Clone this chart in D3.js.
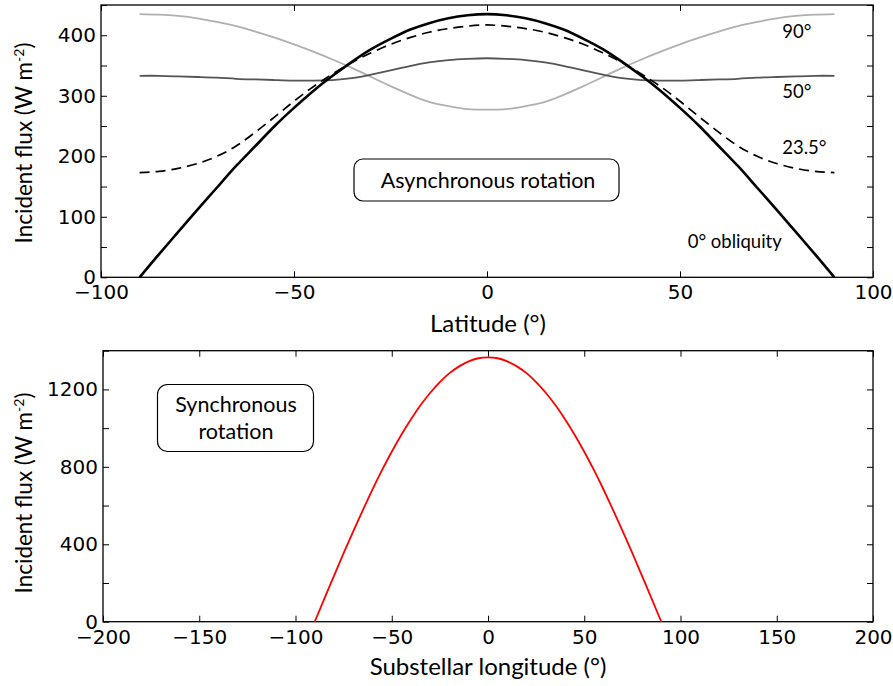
<!DOCTYPE html>
<html><head><meta charset="utf-8">
<script src="https://cdn.jsdelivr.net/npm/d3@7"></script>
<style>
body{margin:0;background:#fff;}
svg{display:block;}
.tick text{font-family:"DejaVu Sans",sans-serif;font-size:20px;fill:#000;}
.lbl{font-family:Lato,"Open Sans",sans-serif;fill:#000;}
</style></head>
<body>
<svg id="c" width="893" height="686"></svg>
<script>
// ---- Data ----
const latitudes = [-90,-85,-80,-75,-70,-65,-60,-55,-50,-45,-40,-35,-30,-25,-20,-15,-10,-5,0,5,10,15,20,25,30,35,40,45,50,55,60,65,70,75,80,85,90];
const flux0   = [0,38,75,112,148,184,217,250,280,308,333,356,377,394,409,420,428,433,435,433,428,420,409,394,377,356,333,308,280,250,217,184,148,112,75,38,0];
const flux235 = [173,175,180,188,200,217,240,265,291,315,336,355,371,385,396,405,411,415,417,415,411,405,396,385,371,355,336,315,291,265,240,217,200,188,180,175,173];
const flux50  = [333,333,332,331,330,328,327,326,325,325,326,329,335,342,349,355,359,361,362,361,359,355,349,342,335,329,326,325,325,326,327,328,330,331,332,333,333];
const flux90  = [435,434,432,428,422,415,406,396,385,373,360,346,331,316,302,290,283,278,277,278,283,290,302,316,331,346,360,373,385,396,406,415,422,428,432,434,435];
const seriesLabels = ["90°","50°","23.5°","0° obliquity"];

const longitudes = [-90,-85,-80,-75,-70,-65,-60,-55,-50,-45,-40,-35,-30,-25,-20,-15,-10,-5,0,5,10,15,20,25,30,35,40,45,50,55,60,65,70,75,80,85,90];
const fluxSync = [0,119,237,354,467,577,683,784,878,966,1046,1119,1183,1238,1284,1319,1345,1361,1366,1361,1345,1319,1284,1238,1183,1119,1046,966,878,784,683,577,467,354,237,119,0];

const topXTicks = [-100,-50,0,50,100];
const topYTicks = [0,50,100,150,200,250,300,350,400,450];
const botXTicks = [-200,-150,-100,-50,0,50,100,150,200];
const botYTicks = [0,200,400,600,800,1000,1200,1400];

const svg = d3.select("#c");
const minus = d => String(d).replace("-", "\u2212");

function panel(xs, ys, xt, yt, yLabelEvery) {
  const g = svg.append("g");
  const [x0,x1] = xs.range(), [y0,y1] = ys.range();
  const ts = 6;
  g.append("g").attr("transform",`translate(0,${y0})`)
    .call(d3.axisBottom(xs).tickValues(xt).tickSizeInner(-ts).tickSizeOuter(0).tickPadding(8).tickFormat(minus))
    .call(s=>s.select(".domain").remove());
  g.append("g").attr("transform",`translate(0,${y1})`)
    .call(d3.axisTop(xs).tickValues(xt).tickSizeInner(-ts).tickSizeOuter(0).tickFormat(""))
    .call(s=>s.select(".domain").remove());
  g.append("g").attr("transform",`translate(${x0},0)`)
    .call(d3.axisLeft(ys).tickValues(yt).tickSizeInner(-ts).tickSizeOuter(0).tickPadding(5)
      .tickFormat(d => d % yLabelEvery === 0 ? d : ""))
    .call(s=>s.select(".domain").remove());
  g.append("g").attr("transform",`translate(${x1},0)`)
    .call(d3.axisRight(ys).tickValues(yt).tickSizeInner(-ts).tickSizeOuter(0).tickFormat(""))
    .call(s=>s.select(".domain").remove());
  g.selectAll(".tick line").attr("stroke","#000").attr("stroke-width",1);
  g.append("rect").attr("x",x0).attr("y",y1).attr("width",x1-x0).attr("height",y0-y1)
    .attr("fill","none").attr("stroke","#000").attr("stroke-width",1.3);
  return g;
}

function ylabel(cx, cy) {
  const t = svg.append("text").attr("class","lbl")
    .attr("transform",`translate(${cx},${cy}) rotate(-90)`)
    .attr("text-anchor","middle").attr("font-size",22.5);
  t.append("tspan").text("Incident flux (W m");
  t.append("tspan").attr("font-size",14).attr("dy",-8).text("-2");
  t.append("tspan").attr("dy",8).text(")");
}

// ---- Top panel ----
const xA = d3.scaleLinear().domain([-100,100]).range([101,873]);
const yA = d3.scaleLinear().domain([0,450]).range([277.3,5]);
panel(xA, yA, topXTicks, topYTicks, 100);

const lineA = arr => d3.line().x((d,i)=>xA(latitudes[i])).y(d=>yA(d)).curve(d3.curveNatural)(arr);
svg.append("path").attr("d",lineA(flux90)).attr("fill","none").attr("stroke","#b0b0b0").attr("stroke-width",1.8);
svg.append("path").attr("d",lineA(flux50)).attr("fill","none").attr("stroke","#555").attr("stroke-width",1.8);
svg.append("path").attr("d",lineA(flux235)).attr("fill","none").attr("stroke","#000").attr("stroke-width",1.7).attr("stroke-dasharray","10,6");
svg.append("path").attr("d",lineA(flux0)).attr("fill","none").attr("stroke","#000").attr("stroke-width",2.6);

const labPos = [[76.5,395],[76.5,296],[76.5,203],[52,48]];
seriesLabels.forEach((s,i)=>{
  svg.append("text").attr("class","lbl").attr("font-size",18.5)
    .attr("x",xA(labPos[i][0])).attr("y",yA(labPos[i][1])).text(s);
});

// Asynchronous rotation box
svg.append("rect").attr("x",354).attr("y",159).attr("width",265).attr("height",42)
  .attr("rx",9).attr("fill","#fff").attr("stroke","#000").attr("stroke-width",1.2);
svg.append("text").attr("class","lbl").attr("font-size",21.5).attr("text-anchor","middle")
  .attr("x",488).attr("y",188).text("Asynchronous rotation");

svg.append("text").attr("class","lbl").attr("font-size",24).attr("text-anchor","middle")
  .attr("x",488).attr("y",331.5).text("Latitude (°)");
ylabel(32, 143);

// ---- Bottom panel ----
const xB = d3.scaleLinear().domain([-200,200]).range([103,873]);
const yB = d3.scaleLinear().domain([0,1400]).range([621.7,350.7]);
panel(xB, yB, botXTicks, botYTicks, 400);

const lineB = d3.line().x((d,i)=>xB(longitudes[i])).y(d=>yB(d)).curve(d3.curveNatural);
svg.append("path").attr("d",lineB(fluxSync)).attr("fill","none").attr("stroke","#ff0000").attr("stroke-width",1.8);

svg.append("rect").attr("x",157.5).attr("y",384.5).attr("width",156).attr("height",67)
  .attr("rx",10).attr("fill","#fff").attr("stroke","#000").attr("stroke-width",1.2);
svg.append("text").attr("class","lbl").attr("font-size",21.5).attr("text-anchor","middle")
  .attr("x",236).attr("y",412).text("Synchronous");
svg.append("text").attr("class","lbl").attr("font-size",21.5).attr("text-anchor","middle")
  .attr("x",236).attr("y",439).text("rotation");

svg.append("text").attr("class","lbl").attr("font-size",24).attr("text-anchor","middle")
  .attr("x",xB(0)).attr("y",675).text("Substellar longitude (°)");
ylabel(32, 493);
</script>
</body></html>
